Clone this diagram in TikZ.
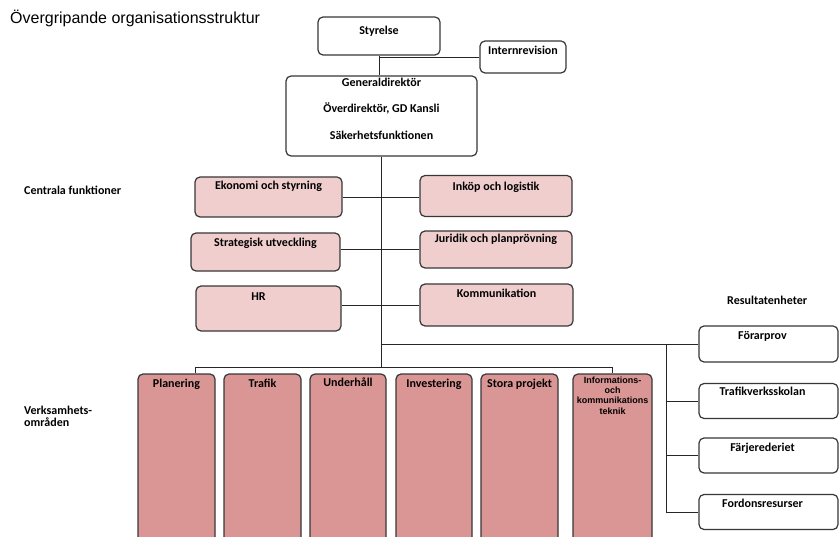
\documentclass[tikz,border=0pt]{standalone}
\usepackage{fontspec}
\setmainfont{Carlito}
\newfontfamily\arialfont{Liberation Sans}
\definecolor{centralfill}{RGB}{240,206,206}
\definecolor{verkfill}{RGB}{218,150,148}
\definecolor{boxline}{RGB}{55,55,55}

\begin{document}
\begin{tikzpicture}[x=1pt,y=-1pt]
		\tikzstyle{Box} = [rectangle, rounded corners=5pt, draw=boxline, line width=1.2pt, fill=white, inner sep=0pt]
		\tikzstyle{Central} = [Box, fill=centralfill]
		\tikzstyle{Verk} = [Box, fill=verkfill, minimum height=186pt]
		\tikzstyle{Unit} = [Box, minimum width=139pt, minimum height=35pt]
		\tikzstyle{Text} = [anchor=north, yshift=-5pt, inner sep=0pt, align=center, font=\bfseries\fontsize{12}{14}\selectfont]
		\tikzstyle{Side} = [anchor=west, inner sep=0pt, align=left, font=\bfseries\fontsize{12}{12}\selectfont]
		\tikzstyle{line} = [line width=0.9pt, draw=black!85]
		
		\clip (0,0) rectangle (840,537);
		
		\node (title) [anchor=west, inner sep=0pt, font=\arialfont\fontsize{16}{19}\selectfont] at (10,18) {Övergripande organisationsstruktur};
		
		% ledning
		\node (styrelse) [Box, minimum width=122pt, minimum height=38pt, label={[Text, yshift=-4pt]north:Styrelse}] at (379,36) {};
		\node (intrev) [Box, minimum width=86pt, minimum height=32pt, label={[Text]north:Internrevision}] at (523,57) {};
		\node (gd) [Box, minimum width=191pt, minimum height=80pt, label={[Text, yshift=3pt, font=\bfseries\fontsize{12}{26.5}\selectfont]north:Generaldirektör\\Överdirektör, GD Kansli\\Säkerhetsfunktionen}] at (381.5,116) {};
		
		% centrala funktioner
		\node (ctitle) [Side] at (24,190) {Centrala funktioner};
		\node (ekonomi) [Central, minimum width=147pt, minimum height=40pt, label={[Text, yshift=1pt]north:Ekonomi och styrning}] at (268.5,197) {};
		\node (inkop) [Central, minimum width=152pt, minimum height=41pt, label={[Text, yshift=-2pt]north:Inköp och logistik}] at (496,196) {};
		\node (strat) [Central, minimum width=149pt, minimum height=38pt, label={[Text]north:Strategisk utveckling}] at (265.5,252) {};
		\node (juridik) [Central, minimum width=152pt, minimum height=37pt, label={[Text, yshift=2pt]north:Juridik och planprövning}] at (496,249.5) {};
		\node (hr) [Central, minimum width=145pt, minimum height=45pt, label={[Text, xshift=-10pt, yshift=-2pt]north:HR}] at (268.5,308.5) {};
		\node (komm) [Central, minimum width=153pt, minimum height=42pt, label={[Text]north:Kommunikation}] at (496.5,305) {};
		
		% verksamhetsomraden
		\node (vtitle) [Side] at (24,416) {Verksamhets-\\områden};
		\node (planering) [Verk, minimum width=77pt, label={[Text]north:Planering}] at (176.5,467) {};
		\node (trafik) [Verk, minimum width=77pt, label={[Text]north:Trafik}] at (262.5,467) {};
		\node (underhall) [Verk, minimum width=76pt, label={[Text, yshift=1pt]north:Underhåll}] at (348,467) {};
		\node (investering) [Verk, minimum width=76pt, label={[Text]north:Investering}] at (434,467) {};
		\node (stora) [Verk, minimum width=77pt, label={[Text]north:Stora projekt}] at (519.5,467) {};
		\node (info) [Verk, minimum width=79pt, label={[Text, yshift=2pt, font=\arialfont\bfseries\fontsize{9}{10.3}\selectfont]north:Informations-\\och\\kommunikations\\teknik}] at (612.5,467) {};
		
		% resultatenheter
		\node (rtitle) [Side] at (727,300) {Resultatenheter};
		\node (forarprov) [Unit, minimum height=36pt, label={[Text, xshift=-6pt, yshift=-1pt]north:Förarprov}] at (768.5,344) {};
		\node (skolan) [Unit, label={[Text, xshift=-6pt, yshift=1pt]north:Trafikverksskolan}] at (768.5,401) {};
		\node (farje) [Unit, label={[Text, xshift=-6pt]north:Färjerederiet}] at (768.5,455.5) {};
		\node (fordon) [Unit, label={[Text, xshift=-6pt]north:Fordonsresurser}] at (768.5,512) {};
		
		\coordinate (vbar) at (381,367);
		\coordinate (rbar) at (666,344);
		
		\draw [line] (styrelse.south) -- (styrelse.south |- gd.north);
		\draw [line] (styrelse.south |- intrev.west) -- (intrev.west);
		\draw [line] (gd.south) -- (gd.south |- vbar);
		
		\draw [line] (ekonomi.east) -- (ekonomi.east -| inkop.west);
		\draw [line] (juridik.west -| strat.east) -- (juridik.west);
		\draw [line] (komm.west -| hr.east) -- (komm.west);
		
		\draw [line] ([xshift=18.5pt]planering.north) |- (info.north |- vbar) -- (info.north);
		
		\draw [line] (gd.south |- forarprov.west) -- (forarprov.west);
		\draw [line] (rbar) -- (rbar |- fordon.west);
		\draw [line] (rbar |- skolan.west) -- (skolan.west);
		\draw [line] (rbar |- farje.west) -- (farje.west);
		\draw [line] (rbar |- fordon.west) -- (fordon.west);
\end{tikzpicture}
\end{document}
